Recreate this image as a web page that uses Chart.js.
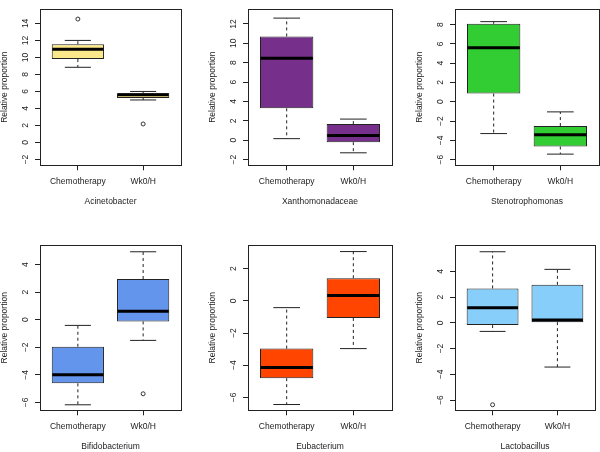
<!DOCTYPE html>
<html>
<head>
<meta charset="utf-8">
<script src="https://cdn.jsdelivr.net/npm/chart.js@4.4.0/dist/chart.umd.min.js"></script>
<style>
html, body { margin: 0; padding: 0; background: #fff; }
#wrap { position: relative; width: 600px; height: 452px; overflow: hidden; }
#wrap canvas { position: absolute; }
</style>
</head>
<body>
<div id="wrap"></div>
<script>
// Values (one entry per panel, [Chemotherapy, Wk0/H])
var taxa = ['Acinetobacter', 'Xanthomonadaceae', 'Stenotrophomonas', 'Bifidobacterium', 'Eubacterium', 'Lactobacillus']
var groups = ['Chemotherapy', 'Wk0/H']
var whiskerLow = [[8.84, 5.0], [0.16, -1.3], [-3.3, -5.43], [-6.18, -1.5], [-6.45, -2.97], [-0.67, -3.44]]
var quart1 = [[9.81, 5.22], [3.29, -0.2], [0.85, -4.64], [-4.62, -0.12], [-4.81, -1.06], [-0.18, 0.05]]
var medians = [[10.96, 5.62], [8.47, 0.49], [5.59, -3.43], [-4.0, 0.61], [-4.15, 0.33], [1.17, 0.21]]
var quart3 = [[11.56, 5.78], [10.71, 1.66], [8.08, -2.52], [-1.96, 2.96], [-2.97, 1.41], [2.67, 2.95]]
var whiskerHigh = [[12.0, 6.0], [12.6, 2.18], [8.31, -1.05], [-0.41, 4.94], [-0.42, 3.07], [5.52, 4.15]]
// outliers: [group index, value]
var outliers = [[[0, 14.51], [1, 2.18]], [], [], [[1, -5.38]], [], [[0, -6.37]]]
var yTicks = [
    [-2, 0, 2, 4, 6, 8, 10, 12, 14],
    [-2, 0, 2, 4, 6, 8, 10, 12],
    [-6, -4, -2, 0, 2, 4, 6, 8],
    [-6, -4, -2, 0, 2, 4],
    [-6, -4, -2, 0, 2],
    [-6, -4, -2, 0, 2, 4]
]
var yLimits = [[-2.68, 15.68], [-2.59, 13.53], [-6.59, 9.61], [-6.58, 5.41], [-6.81, 3.46], [-6.8, 6.02]]
var fills = ['#FBE88A', '#76308B', '#32CD32', '#6495ED', '#FF4500', '#87CEFA']

// Layout
var colLeft = [0, 208, 415]
var colWidth = [186, 186, 185]
var rowTop = [0, 226]
var font = { family: "'Liberation Sans', Arial, sans-serif", size: 8.5 }
var ink = '#222'

function boxExtras(p) {
    return {
        id: 'boxExtras' + p,
        afterDatasetsDraw: function(chart) {
            var xs = chart.scales.x, ys = chart.scales.y, ctx = chart.ctx
            function seg(x1, y1, x2, y2) {
                ctx.beginPath(); ctx.moveTo(x1, y1); ctx.lineTo(x2, y2); ctx.stroke()
            }
            ctx.save()
            ctx.strokeStyle = ink
            for (var g = 0; g < groups.length; g++) {
                var x = xs.getPixelForValue(g + 1)
                var cl = xs.getPixelForValue(g + 0.8), cr = xs.getPixelForValue(g + 1.2)
                var bl = xs.getPixelForValue(g + 0.6), br = xs.getPixelForValue(g + 1.4)
                ctx.lineWidth = 1
                ctx.setLineDash([3, 3])
                seg(x, ys.getPixelForValue(quart3[p][g]), x, ys.getPixelForValue(whiskerHigh[p][g]))
                seg(x, ys.getPixelForValue(quart1[p][g]), x, ys.getPixelForValue(whiskerLow[p][g]))
                ctx.setLineDash([])
                seg(cl, ys.getPixelForValue(whiskerHigh[p][g]), cr, ys.getPixelForValue(whiskerHigh[p][g]))
                seg(cl, ys.getPixelForValue(whiskerLow[p][g]), cr, ys.getPixelForValue(whiskerLow[p][g]))
                ctx.lineWidth = 3
                ctx.strokeStyle = '#000'
                seg(bl + 0.5, ys.getPixelForValue(medians[p][g]), br - 0.5, ys.getPixelForValue(medians[p][g]))
                ctx.strokeStyle = ink
            }
            // frame
            var a = chart.chartArea
            ctx.lineWidth = 1
            ctx.strokeRect(Math.floor(a.left) + 0.5, Math.floor(a.top) + 0.5,
                Math.round(a.right - a.left), Math.round(a.bottom - a.top))
            ctx.restore()
        }
    }
}

var wrap = document.getElementById('wrap')
for (let p = 0; p < taxa.length; p++) {
    let col = p % 3, row = Math.floor(p / 3)
    let cv = document.createElement('canvas')
    cv.width = colWidth[col]
    cv.height = 226
    cv.style.left = colLeft[col] + 'px'
    cv.style.top = rowTop[row] + 'px'
    wrap.appendChild(cv)

    new Chart(cv.getContext('2d'), {
        type: 'bar',
        data: {
            datasets: [{
                type: 'bar',
                data: groups.map((g, i) => ({ x: i + 1, y: [quart1[p][i], quart3[p][i]] })),
                backgroundColor: fills[p],
                borderColor: ink,
                borderWidth: 1,
                borderSkipped: false,
                categoryPercentage: 0.8,
                barPercentage: 1
            }, {
                type: 'scatter',
                data: outliers[p].map(o => ({ x: o[0] + 1, y: o[1] })),
                pointRadius: 2,
                pointBackgroundColor: 'rgba(0,0,0,0)',
                pointBorderColor: '#333',
                pointBorderWidth: 1,
                showLine: false
            }]
        },
        options: {
            responsive: false,
            animation: false,
            devicePixelRatio: 1,
            layout: {
                padding: row === 0
                    ? { top: 0, bottom: 19, left: 0, right: colWidth[col] - 184 }
                    : { top: 19.3, bottom: 0, left: 0, right: colWidth[col] - 184 }
            },
            plugins: { legend: { display: false }, tooltip: { enabled: false } },
            scales: {
                x: {
                    type: 'linear',
                    min: 0.42,
                    max: 2.58,
                    offset: false,
                    afterBuildTicks: s => { s.ticks = groups.map((g, i) => ({ value: i + 1 })) },
                    afterFit: s => { s.height = 41.7 },
                    grid: { drawOnChartArea: false, drawTicks: true, tickLength: 5, color: ink, offset: false },
                    border: { display: false },
                    ticks: { callback: v => groups[v - 1], font: font, color: ink, padding: 6, maxRotation: 0, autoSkip: false },
                    title: { display: true, text: taxa[p], font: font, color: ink, padding: 0 }
                },
                y: {
                    min: yLimits[p][0],
                    max: yLimits[p][1],
                    beginAtZero: false,
                    afterBuildTicks: s => { s.ticks = yTicks[p].map(v => ({ value: v })) },
                    afterFit: s => { s.width = 40 },
                    grid: { drawOnChartArea: false, drawTicks: true, tickLength: 5, color: ink },
                    border: { display: false },
                    ticks: {
                        minRotation: 90, maxRotation: 90, crossAlign: 'center', padding: 4,
                        autoSkip: false, font: font, color: ink,
                        callback: v => String(v).replace('-', '\u2212')
                    },
                    title: { display: true, text: 'Relative proportion', font: font, color: ink, padding: 0 }
                }
            }
        },
        plugins: [boxExtras(p)]
    })
}
</script>
</body>
</html>
